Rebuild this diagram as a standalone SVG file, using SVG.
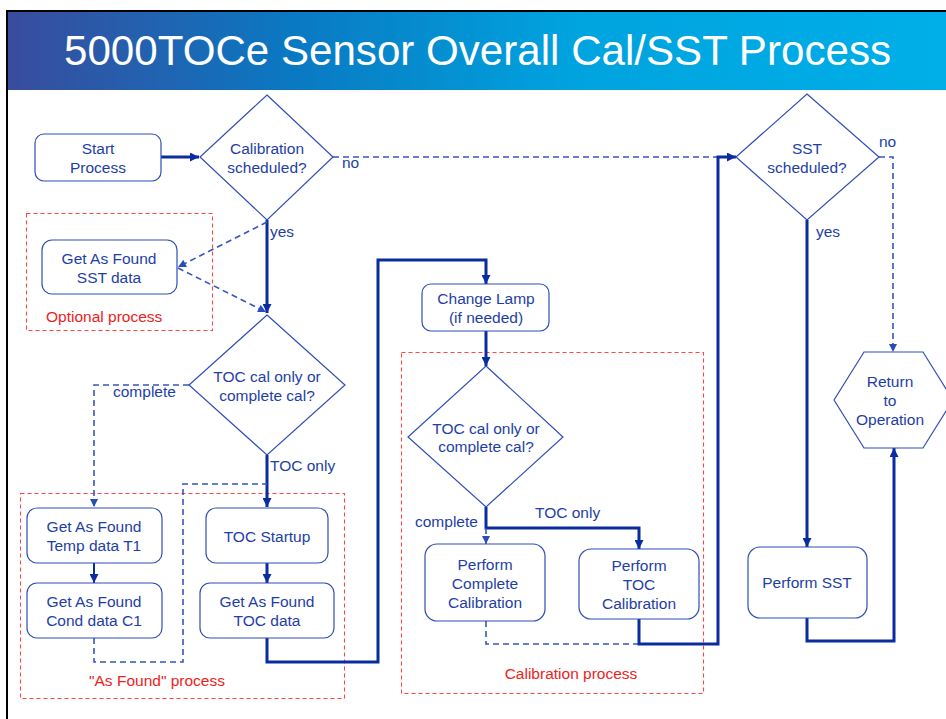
<svg xmlns="http://www.w3.org/2000/svg" width="946" height="719" viewBox="0 0 946 719">
<style>
.bg{fill:#ffffff}
.title{font-family:"Liberation Sans",Arial,sans-serif;font-size:42px;fill:#ffffff}
.box{fill:#ffffff;stroke:#2f4fb5;stroke-width:1.2}
.dia{fill:#ffffff;stroke:#2f4fb5;stroke-width:1.2}
.t{font-family:"Liberation Sans",Arial,sans-serif;font-size:15.5px;fill:#1e3ea6;text-anchor:middle}
.lbl{font-family:"Liberation Sans",Arial,sans-serif;font-size:15.5px;fill:#1e3ea6}
.red{font-family:"Liberation Sans",Arial,sans-serif;font-size:15.5px;fill:#ee2222}
.grp{fill:none;stroke:#ff4444;stroke-width:1.1;stroke-dasharray:4 3}
.thick{fill:none;stroke:#0b2c9e;stroke-width:3}
.mid{fill:none;stroke:#0b2c9e;stroke-width:2}
.dash{fill:none;stroke:#3656bd;stroke-width:1.6;stroke-dasharray:6 4}
</style>
<defs>
<linearGradient id="hdr" x1="0" y1="0" x2="1" y2="0">
<stop offset="0" stop-color="#3a4b9d"/>
<stop offset="0.3" stop-color="#0a78c2"/>
<stop offset="0.6" stop-color="#00a3de"/>
<stop offset="1" stop-color="#00afe8"/>
</linearGradient>
<marker id="ah" viewBox="0 0 10 10" refX="10" refY="5" markerWidth="10" markerHeight="9" markerUnits="userSpaceOnUse" orient="auto"><path d="M0,0 L10,5 L0,10 z" fill="#0b2c9e"/></marker>
<marker id="ahd" viewBox="0 0 10 10" refX="10" refY="5" markerWidth="9" markerHeight="8" markerUnits="userSpaceOnUse" orient="auto"><path d="M0,0 L10,5 L0,10 z" fill="#2a4cb8"/></marker>
</defs>
<rect class="bg" x="0" y="0" width="946" height="719"/>
<rect x="7" y="12" width="939" height="78" fill="url(#hdr)"/>
<line x1="6" y1="11" x2="946" y2="11" stroke="#000" stroke-width="2"/>
<line x1="7" y1="11" x2="7" y2="719" stroke="#000" stroke-width="2"/>
<text class="title" x="64" y="65" textLength="827" lengthAdjust="spacingAndGlyphs">5000TOCe Sensor Overall Cal/SST Process</text>

<g id="groups">
<rect class="grp" x="26.5" y="213.5" width="186" height="117"/>
<text class="red" x="46" y="322">Optional process</text>
<rect class="grp" x="20.5" y="493.5" width="324" height="205"/>
<text class="red" x="157" y="686" text-anchor="middle">"As Found" process</text>
<rect class="grp" x="401.5" y="352.5" width="302" height="341"/>
<text class="red" x="571" y="679" text-anchor="middle">Calibration process</text>
</g>

<g id="connectors">
<path class="thick" d="M161,157 H199" marker-end="url(#ah)"/>
<path class="dash" d="M333,157 H718"/>
<path class="thick" d="M267,220 V313" marker-end="url(#ah)"/>
<path class="dash" d="M267,222 L178,267" marker-end="url(#ahd)"/>
<path class="dash" d="M178,268 L266,312" marker-end="url(#ahd)"/>
<path class="dash" d="M189,385 H94 V507" marker-end="url(#ahd)"/>
<path class="thick" d="M267,455 V507" marker-end="url(#ah)"/>
<path class="mid" d="M94,563 V583" marker-end="url(#ah)"/>
<path class="dash" d="M94,638 V662 H183 V484 H267"/>
<path class="thick" d="M267,563 V583" marker-end="url(#ah)"/>
<path class="thick" d="M267,638 V662 H378 V260 H486 V284" marker-end="url(#ah)"/>
<path class="thick" d="M486,331 V366" marker-end="url(#ah)"/>
<path class="thick" d="M486,507 V528 H639 V549" marker-end="url(#ah)"/>
<path class="dash" d="M486,528 V544" marker-end="url(#ahd)"/>
<path class="dash" d="M486,621 V644 H639"/>
<path class="thick" d="M639,619 V644 H718 V157 H736" marker-end="url(#ah)"/>
<path class="dash" d="M879,157 H893 V352" marker-end="url(#ahd)"/>
<path class="thick" d="M807,220 V547" marker-end="url(#ah)"/>
<path class="thick" d="M807,618 V641 H894 V448" marker-end="url(#ah)"/>
<text class="lbl" x="342" y="168">no</text>
<text class="lbl" x="270" y="237">yes</text>
<text class="lbl" x="113" y="397">complete</text>
<text class="lbl" x="270" y="471">TOC only</text>
<text class="lbl" x="415" y="527">complete</text>
<text class="lbl" x="535" y="518">TOC only</text>
<text class="lbl" x="879" y="147">no</text>
<text class="lbl" x="816" y="237">yes</text>
</g>

<g id="start">
<rect class="box" x="35" y="134" width="126" height="47" rx="9"/>
<text class="t" x="98" y="154">Start</text>
<text class="t" x="98" y="173">Process</text>
</g>
<g id="cal-scheduled">
<polygon class="dia" points="267,95 333,157 267,220 200,157"/>
<text class="t" x="267" y="154">Calibration</text>
<text class="t" x="267" y="173">scheduled?</text>
</g>
<g id="sst-asfound">
<rect class="box" x="42" y="240" width="135" height="54" rx="10"/>
<text class="t" x="109" y="264">Get As Found</text>
<text class="t" x="109" y="283">SST data</text>
</g>
<g id="toc-or-complete-1">
<polygon class="dia" points="267,315 345,385 267,455 189,385"/>
<text class="t" x="267" y="382">TOC cal only or</text>
<text class="t" x="267" y="401">complete cal?</text>
</g>
<g id="temp-t1">
<rect class="box" x="27" y="508" width="135" height="55" rx="10"/>
<text class="t" x="94" y="532">Get As Found</text>
<text class="t" x="94" y="551">Temp data T1</text>
</g>
<g id="cond-c1">
<rect class="box" x="27" y="583" width="135" height="55" rx="10"/>
<text class="t" x="94" y="607">Get As Found</text>
<text class="t" x="94" y="626">Cond data C1</text>
</g>
<g id="toc-startup">
<rect class="box" x="206" y="508" width="122" height="55" rx="10"/>
<text class="t" x="267" y="542">TOC Startup</text>
</g>
<g id="toc-data">
<rect class="box" x="200" y="583" width="134" height="55" rx="10"/>
<text class="t" x="267" y="607">Get As Found</text>
<text class="t" x="267" y="626">TOC data</text>
</g>
<g id="change-lamp">
<rect class="box" x="422" y="284" width="127" height="47" rx="9"/>
<text class="t" x="486" y="304">Change Lamp</text>
<text class="t" x="486" y="323">(if needed)</text>
</g>
<g id="toc-or-complete-2">
<polygon class="dia" points="486,366 563,437 486,507 408,437"/>
<text class="t" x="486" y="434">TOC cal only or</text>
<text class="t" x="486" y="452">complete cal?</text>
</g>
<g id="complete-cal">
<rect class="box" x="425" y="544" width="120" height="77" rx="12"/>
<text class="t" x="485" y="570">Perform</text>
<text class="t" x="485" y="589">Complete</text>
<text class="t" x="485" y="608">Calibration</text>
</g>
<g id="toc-cal">
<rect class="box" x="579" y="549" width="120" height="70" rx="12"/>
<text class="t" x="639" y="571">Perform</text>
<text class="t" x="639" y="590">TOC</text>
<text class="t" x="639" y="609">Calibration</text>
</g>
<g id="sst-scheduled">
<polygon class="dia" points="807,94 879,157 807,220 736,157"/>
<text class="t" x="807" y="154">SST</text>
<text class="t" x="807" y="173">scheduled?</text>
</g>
<g id="perform-sst">
<rect class="box" x="748" y="547" width="119" height="71" rx="12"/>
<text class="t" x="807" y="588">Perform SST</text>
</g>
<g id="return">
<polygon class="dia" points="864,352 923,352 953,400 923,448 864,448 834,400"/>
<text class="t" x="890" y="387">Return</text>
<text class="t" x="890" y="406">to</text>
<text class="t" x="890" y="425">Operation</text>
</g>
</svg>
